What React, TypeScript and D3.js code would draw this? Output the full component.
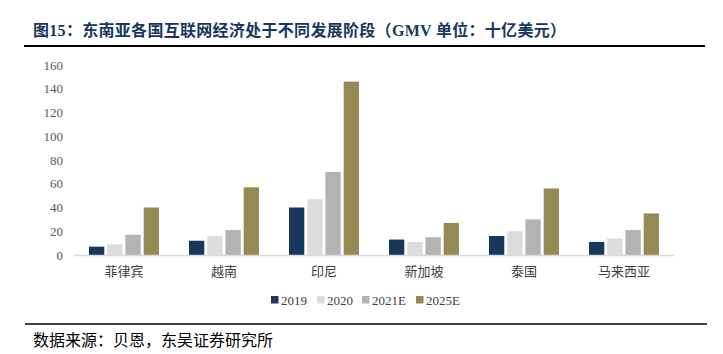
import React from "react";
import * as d3 from "d3";

const categories = ["菲律宾", "越南", "印尼", "新加坡", "泰国", "马来西亚"];
const seriesNames = ["2019", "2020", "2021E", "2025E"];
const v2019 = [7, 12, 40, 13, 16, 11];
const v2020 = [9, 16, 47, 11, 20, 14];
const v2021 = [17, 21, 70, 15, 30, 21];
const v2025 = [40, 57, 146, 27, 56, 35];
const seriesValues = [v2019, v2020, v2021, v2025];
const colors = ["#17375e", "#dcdcdc", "#b3b3b3", "#948a54"];
const yTicks = [0, 20, 40, 60, 80, 100, 120, 140, 160];

const title = "图15：东南亚各国互联网经济处于不同发展阶段（GMV 单位：十亿美元）";
const source = "数据来源：贝恩，东吴证券研究所";

const W = 723;
const H = 354;
const serif = "'Liberation Serif', 'Times New Roman', 'Noto Sans CJK SC', serif";
const cjk = "'Noto Sans CJK SC', sans-serif";

export default function App() {
  const x0 = d3.scaleBand<string>().domain(categories).range([74, 674]).paddingInner(0.3).paddingOuter(0.15);
  const x1 = d3.scaleBand<string>().domain(seriesNames).range([0, x0.bandwidth()]).paddingInner(0.16).paddingOuter(0);
  const y = d3.scaleLinear().domain([0, 160]).range([255, 65]);

  const legendX = [271, 317, 362, 416];

  return (
    <svg width={W} height={H} style={{ position: "absolute", left: 0, top: 0, background: "#fff" }}>
      <text x={33} y={36} fontFamily={serif} fontWeight="bold" fontSize={16} letterSpacing={0.3} fill="#17375e">{title}</text>
      <line x1={24} x2={705} y1={46} y2={46} stroke="#000" strokeWidth={2} />

      {yTicks.map((t) => (
        <text key={t} x={63} y={y(t)} dy="0.35em" textAnchor="end" fontFamily={serif} fontSize={13} fill="#595959">{t}</text>
      ))}

      {categories.map((c, i) => (
        <g key={c} transform={`translate(${x0(c)},0)`}>
          {seriesNames.map((s, j) => (
            <rect key={s} x={x1(s)} y={y(seriesValues[j][i])} width={x1.bandwidth()} height={y(0) - y(seriesValues[j][i])} fill={colors[j]} />
          ))}
        </g>
      ))}
      <line x1={74} x2={674} y1={y(0) + 0.5} y2={y(0) + 0.5} stroke="#d9d9d9" strokeWidth={1.5} />

      {categories.map((c) => (
        <text key={c} x={(x0(c) as number) + x0.bandwidth() / 2} y={271} dy="0.35em" textAnchor="middle" fontFamily={cjk} fontSize={13} fill="#404040">{c}</text>
      ))}

      {seriesNames.map((s, j) => (
        <g key={s}>
          <rect x={legendX[j]} y={296} width={7.5} height={7.5} fill={colors[j]} />
          <text x={legendX[j] + 10} y={300} dy="0.35em" fontFamily={serif} fontSize={13} fill="#404040">{s}</text>
        </g>
      ))}

      <line x1={25} x2={707} y1={324} y2={324} stroke="#000" strokeWidth={1.5} />
      <text x={33} y={340} dy="0.35em" fontFamily={cjk} fontSize={16} fill="#000">{source}</text>
    </svg>
  );
}
